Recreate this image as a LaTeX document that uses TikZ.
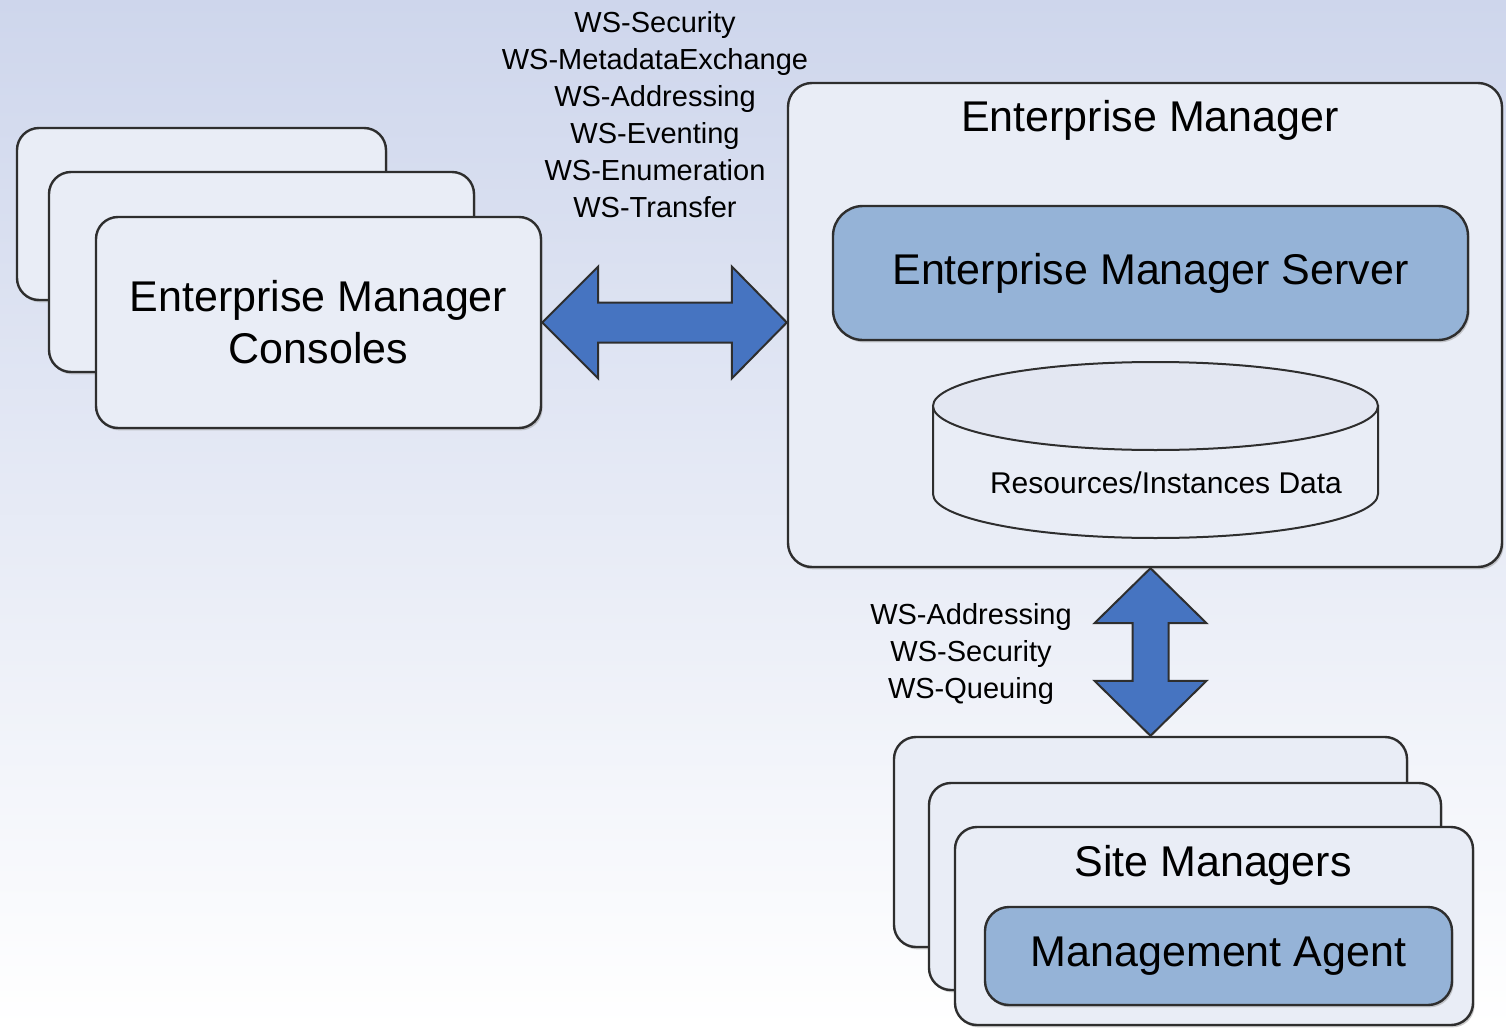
\documentclass[tikz,border=0pt]{standalone}
\usepackage{fontspec}
\setmainfont{Liberation Sans}
\usetikzlibrary{calc,shadows}
\definecolor{bgtop}{HTML}{CED6EC}
\definecolor{boxfill}{HTML}{E9EDF6}
\definecolor{dbtop}{HTML}{E3E7F2}
\definecolor{srvblue}{HTML}{95B3D7}
\definecolor{arrowblue}{HTML}{4674C1}
\definecolor{edge}{HTML}{2E2E2E}

\begin{document}
\begin{tikzpicture}[x=0.5pt,y=-0.5pt,
  box/.style={draw=edge,line width=1.2pt,fill=boxfill,rounded corners=11pt,
    drop shadow={shadow xshift=0.8pt,shadow yshift=-1.2pt,fill=gray!80}},
  bigtext/.style={font=\fontsize{21.5}{26}\selectfont},
  wstext/.style={font=\fontsize{14.5}{18.5}\selectfont,align=center},
  blockarrow/.style={draw=edge,line width=1pt,fill=arrowblue,line join=miter}]
\shade[top color=bgtop,middle color=bgtop!45!white,bottom color=white] (0,0) rectangle (1506,1028);
\useasboundingbox (0,0) rectangle (1506,1028);

% consoles
\node[box,minimum width=184.5pt,minimum height=86pt] (cb) at (201.5,214) {};
\node[box,minimum width=212.5pt,minimum height=100pt] (cm) at (261.5,272) {};
\node[box,minimum width=222.5pt,minimum height=105.5pt,bigtext,align=center] (cf) at (318.5,322.5) {Enterprise Manager\\Consoles};

% enterprise manager
\node[box,rounded corners=12pt,minimum width=357pt,minimum height=242pt] (em) at (1145,325) {};
\node[bigtext] (emt) at (1150,120) {Enterprise Manager};
\node[box,fill=srvblue,rounded corners=15pt,minimum width=317.5pt,minimum height=67pt,bigtext] (srv) at (1150.5,273) {Enterprise Manager Server};

% database
\filldraw[draw=edge,line width=1pt,fill=boxfill] (933,406) -- (933,494)
  arc[start angle=180,end angle=0,x radius=222.5,y radius=44] -- (1378,406) -- cycle;
\draw[draw=edge,line width=1pt,fill=dbtop] (1155.5,406) ellipse [x radius=222.5,y radius=44];
\node[font=\fontsize{15}{18}\selectfont] (dbt) at (1166,483) {Resources/Instances Data};

% site managers
\node[box,minimum width=256.5pt,minimum height=105pt] (sb) at (1150.5,842) {};
\node[box,minimum width=256pt,minimum height=103.5pt] (sm) at (1185,886.5) {};
\node[box,minimum width=259pt,minimum height=99pt] (sf) at (1214,926) {};
\node[bigtext] (smt) at (1213,865) {Site Managers};
\node[box,fill=srvblue,rounded corners=12pt,minimum width=233.5pt,minimum height=49pt,bigtext] (ag) at (1218.5,956) {Management Agent};

% protocols
\node[wstext] (wsup) at (655,115) {WS-Security\\WS-MetadataExchange\\WS-Addressing\\WS-Eventing\\WS-Enumeration\\WS-Transfer};
\node[wstext] (wsdown) at (971,654) {WS-Addressing\\WS-Security\\WS-Queuing};

% block arrows
\draw[blockarrow] (cf.east) -- ++(56,-56) -- ++(0,36) -- ($(em.west |- cf.east)+(-55,-20)$)
  -- ++(0,-36) -- (em.west |- cf.east) -- ++(-55,56) -- ++(0,-36) -- ($(cf.east)+(56,20)$) -- ++(0,36) -- cycle;
\coordinate (vt) at (sb.north |- em.south);
\draw[blockarrow] (vt) -- ++(56,55) -- ++(-38,0) -- ($(sb.north)+(18,-55)$) -- ++(38,0)
  -- (sb.north) -- ++(-56,-55) -- ++(38,0) -- ($(vt)+(-18,55)$) -- ++(-38,0) -- cycle;
\end{tikzpicture}
\end{document}
